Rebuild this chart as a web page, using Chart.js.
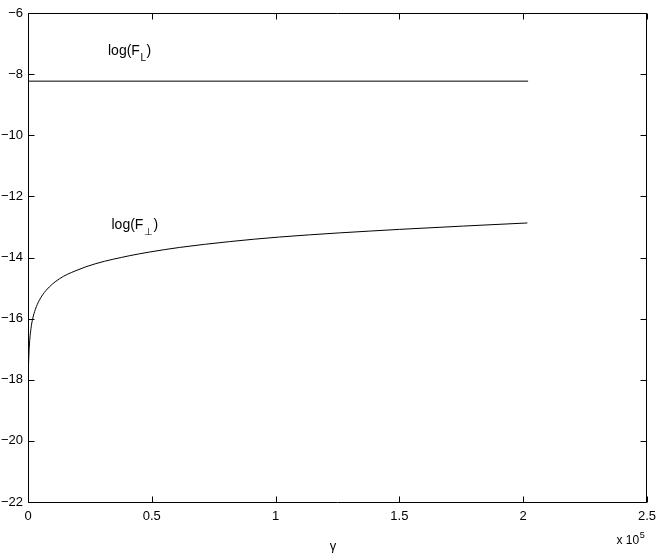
<!DOCTYPE html>
<html><head><meta charset="utf-8">
<style>html,body{margin:0;padding:0;background:#fff}#wrap{width:663px;height:556px;position:relative}</style>
<script src="https://cdn.jsdelivr.net/npm/chart.js@4/dist/chart.umd.min.js"></script>
</head><body><div id="wrap"><canvas id="c" width="663" height="556"></canvas></div>
<script>
const xTicks = [0, 50000, 100000, 150000, 200000, 250000];
const xTickLabels = ['0', '0.5', '1', '1.5', '2', '2.5'];
const yTicks = [-22, -20, -18, -16, -14, -12, -10, -8, -6];
const gammaL = [0, 202000];
const logFL = [-8.23, -8.23];
const gammaPerp = [0, 40, 150, 500, 1210, 1880, 2960, 4570, 7260, 12630, 19350, 27420, 41130, 49190, 61290, 81450, 101600, 150000, 201700];
const logFPerp = [-22, -18.7, -17.7, -16.95, -16.32, -16.01, -15.70, -15.40, -15.08, -14.70, -14.43, -14.20, -13.94, -13.82, -13.67, -13.48, -13.33, -13.08, -12.87];

const FONT = 'Liberation Sans, Arial, Helvetica, sans-serif';

const framePlugin = {
  id: 'frame',
  afterDraw(chart) {
    const ctx = chart.ctx;
    const a = chart.chartArea;
    const xs = chart.scales.x, ys = chart.scales.y;
    const L = Math.round(a.left) + 0.5, R = Math.round(a.right) - 0.5;
    const T = Math.round(a.top) + 0.5, B = Math.round(a.bottom) + 0.5;
    ctx.save();
    ctx.strokeStyle = '#000';
    ctx.lineWidth = 1;
    ctx.beginPath();
    ctx.moveTo(L, T); ctx.lineTo(R, T); ctx.lineTo(R, B); ctx.lineTo(L, B); ctx.closePath();
    ctx.stroke();
    const tl = 6;
    ctx.beginPath();
    xTicks.forEach(v => {
      const p = Math.round(xs.getPixelForValue(v)) + 0.5;
      ctx.moveTo(p, B); ctx.lineTo(p, B - tl);
      ctx.moveTo(p, T); ctx.lineTo(p, T + tl);
    });
    yTicks.forEach(v => {
      const p = Math.round(ys.getPixelForValue(v)) + 0.5;
      ctx.moveTo(L, p); ctx.lineTo(L + tl, p);
      ctx.moveTo(R, p); ctx.lineTo(R - tl, p);
    });
    ctx.stroke();

    ctx.fillStyle = '#000';
    ctx.textBaseline = 'alphabetic';
    ctx.textAlign = 'left';
    function subLabel(x, y, main, sub) {
      ctx.font = '14px ' + FONT;
      ctx.fillText(main, x, y);
      let w = ctx.measureText(main).width;
      ctx.font = '10px ' + FONT;
      ctx.fillText(sub, x + w + 0.5, y + 6);
      const w2 = ctx.measureText(sub).width;
      ctx.font = '14px ' + FONT;
      ctx.fillText(')', x + w + w2 + 1, y);
    }
    subLabel(108, 55, 'log(F', 'L');
    subLabel(111.5, 228.5, 'log(F', '\u22A5');

    ctx.font = '13px ' + FONT;
    ctx.textAlign = 'center';
    ctx.fillText('\u03B3', 333, 550);
    ctx.textAlign = 'left';
    ctx.font = '12px ' + FONT;
    ctx.fillText('x 10', 616.5, 543.5);
    const wx = ctx.measureText('x 10').width;
    ctx.font = '9px ' + FONT;
    ctx.fillText('5', 616.5 + wx + 0.5, 538);
    ctx.restore();
  }
};

new Chart(document.getElementById('c'), {
  type: 'line',
  data: {
    datasets: [
      { data: gammaL.map((g, i) => ({ x: g, y: logFL[i] })), borderColor: '#000', borderWidth: 1, pointRadius: 0, tension: 0, fill: false },
      { data: gammaPerp.map((g, i) => ({ x: g, y: logFPerp[i] })), borderColor: '#000', borderWidth: 1, pointRadius: 0, fill: false, cubicInterpolationMode: 'monotone' }
    ]
  },
  options: {
    responsive: false,
    animation: false,
    devicePixelRatio: 1,
    layout: { padding: { top: 13, right: 15, left: 0, bottom: 0 } },
    plugins: { legend: { display: false }, tooltip: { enabled: false } },
    scales: {
      x: {
        type: 'linear', min: 0, max: 250000,
        afterBuildTicks: s => { s.ticks = xTicks.map(v => ({ value: v })); },
        afterFit: s => { s.height = 54; },
        grid: { display: false, drawTicks: false },
        border: { display: false },
        ticks: {
          padding: 7, color: '#000', maxRotation: 0, autoSkip: false,
          font: { family: FONT, size: 13 },
          callback: v => xTickLabels[xTicks.indexOf(v)]
        }
      },
      y: {
        type: 'linear', min: -22, max: -6,
        afterBuildTicks: s => { s.ticks = yTicks.map(v => ({ value: v })); },
        afterFit: s => { s.width = 28; },
        grid: { display: false, drawTicks: false },
        border: { display: false },
        ticks: {
          padding: 5, color: '#000', autoSkip: false,
          font: { family: FONT, size: 13 },
          callback: v => String(v).replace('-', '\u2212')
        }
      }
    }
  },
  plugins: [framePlugin]
});
</script>
</body></html>
